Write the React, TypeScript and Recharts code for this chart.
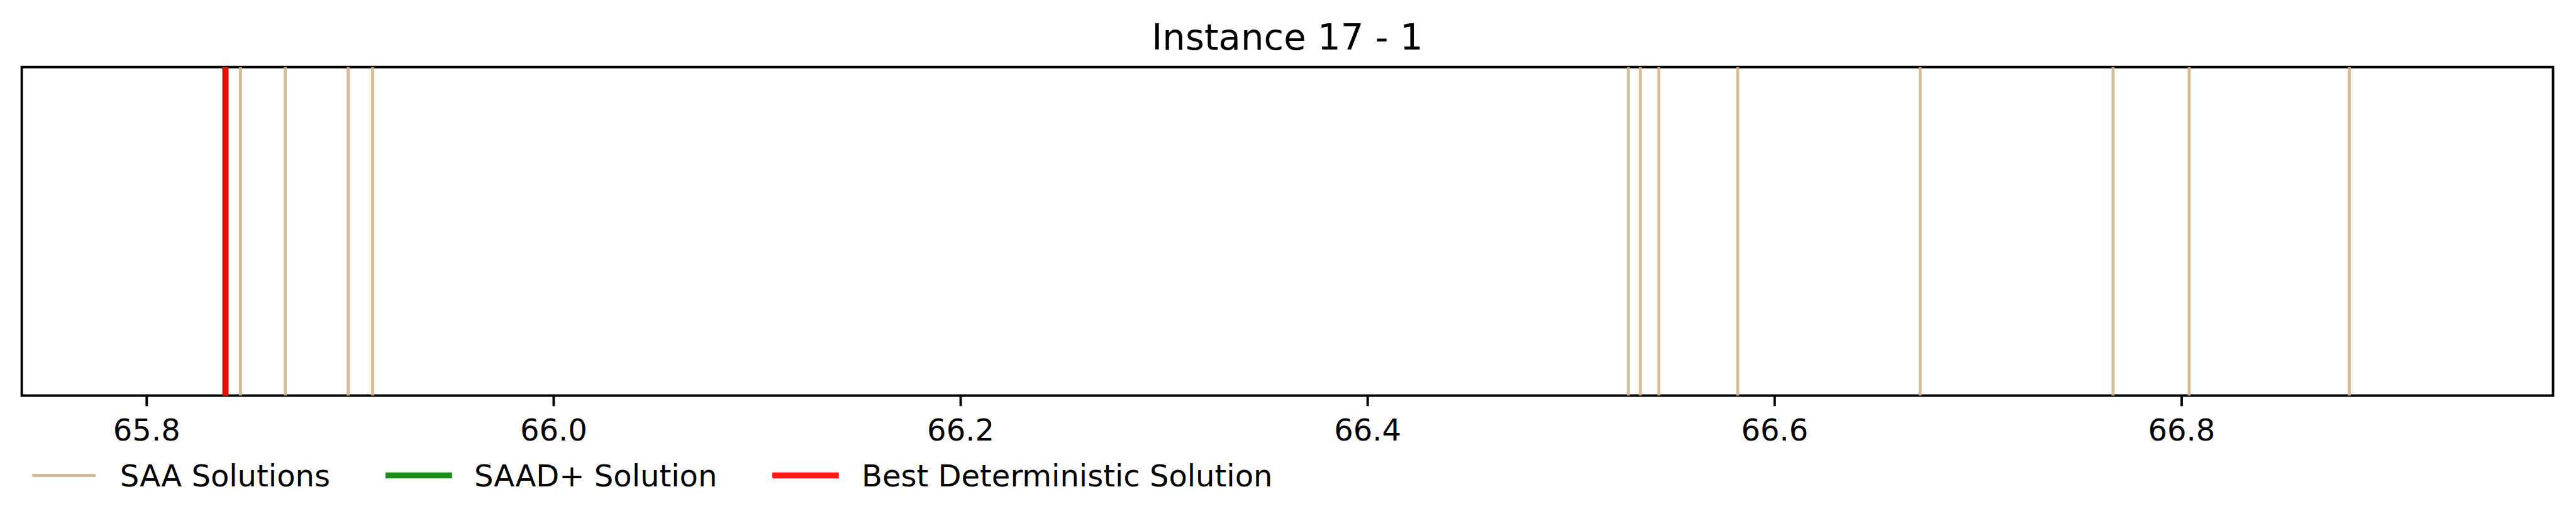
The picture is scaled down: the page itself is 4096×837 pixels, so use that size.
import React from 'react';
import { ComposedChart, XAxis, YAxis, ReferenceLine, ReferenceArea } from 'recharts';

// ---- data ----
const saaSolutions: number[] = [
  65.8461, 65.8681, 65.899, 65.911, 66.5281, 66.534, 66.5431, 66.5818, 66.6715, 66.7663, 66.8037, 66.8824,
];
const saadPlusSolution: number[] = [65.8387];
const bestDeterministic: number[] = [65.8387];
const xTicks: number[] = [65.8, 66.0, 66.2, 66.4, 66.6, 66.8];
const xDomain: [number, number] = [65.7386, 66.9825];
const title = 'Instance 17 - 1';
const legendLabels: string[] = ['SAA Solutions', 'SAAD+ Solution', 'Best Deterministic Solution'];

// ---- styles ----
const W = 4096;
const H = 837;
const FONT = '"DejaVu Sans", sans-serif';
const TAN = '#D2B48C';
const GREEN = '#008000';
const RED = '#FF0000';
const legendColors = [TAN, GREEN, RED];
const legendWidths = [4.8, 9.6, 9.6];
const legendHandleX = [51.2, 613, 1228];
const legendTextX = [190.8, 754, 1370];

const data = saaSolutions.map((x) => ({ x, y: 0.5 }));

export default function App() {
  return (
    <div style={{ position: 'absolute', left: 0, top: 0, width: W, height: H, background: '#fff' }}>
      <ComposedChart
        width={W}
        height={H}
        data={data}
        margin={{ top: 106.7, right: 36.5, bottom: 107.5, left: 34.6 }}
      >
        <XAxis
          dataKey="x"
          type="number"
          domain={xDomain}
          allowDataOverflow
          ticks={xTicks}
          tickFormatter={(v: number) => v.toFixed(1)}
          axisLine={false}
          tickLine={{ stroke: '#000', strokeWidth: 3.85 }}
          tickSize={16.8}
          tickMargin={20.6}
          height={100}
          interval={0}
          tick={{ fontSize: 48, fill: '#000', fontFamily: FONT }}
        />
        <YAxis dataKey="y" type="number" domain={[0, 1]} allowDataOverflow hide />
        {saaSolutions.map((v, i) => (
          <ReferenceLine
            key={'saa' + i}
            x={v}
            stroke={TAN}
            strokeOpacity={0.9}
            strokeWidth={4.8}
            ifOverflow="visible"
          />
        ))}
        {saadPlusSolution.map((v, i) => (
          <ReferenceLine
            key={'saad' + i}
            x={v}
            stroke={GREEN}
            strokeOpacity={0.9}
            strokeWidth={9.6}
            ifOverflow="visible"
          />
        ))}
        {bestDeterministic.map((v, i) => (
          <ReferenceLine
            key={'best' + i}
            x={v}
            stroke={RED}
            strokeOpacity={0.9}
            strokeWidth={9.6}
            ifOverflow="visible"
          />
        ))}
        <ReferenceArea
          x1={xDomain[0]}
          x2={xDomain[1]}
          y1={0}
          y2={1}
          fill="none"
          fillOpacity={0}
          stroke="#000"
          strokeWidth={3.85}
          ifOverflow="visible"
        />
      </ComposedChart>
      <svg
        width={W}
        height={H}
        style={{ position: 'absolute', left: 0, top: 0, pointerEvents: 'none' }}
      >
        <text x={2047} y={78.5} textAnchor="middle" fontSize={57.7} fontFamily={FONT} fill="#000">
          {title}
        </text>
        {legendLabels.map((label, i) => (
          <g key={label}>
            <line
              x1={legendHandleX[i]}
              x2={legendHandleX[i] + 101 + (legendWidths[i] > 5 ? 4.8 : 0)}
              y1={756.5}
              y2={756.5}
              stroke={legendColors[i]}
              strokeOpacity={0.9}
              strokeWidth={legendWidths[i]}
            />
            <text x={legendTextX[i]} y={773.8} fontSize={48} fontFamily={FONT} fill="#000">
              {label}
            </text>
          </g>
        ))}
      </svg>
    </div>
  );
}
